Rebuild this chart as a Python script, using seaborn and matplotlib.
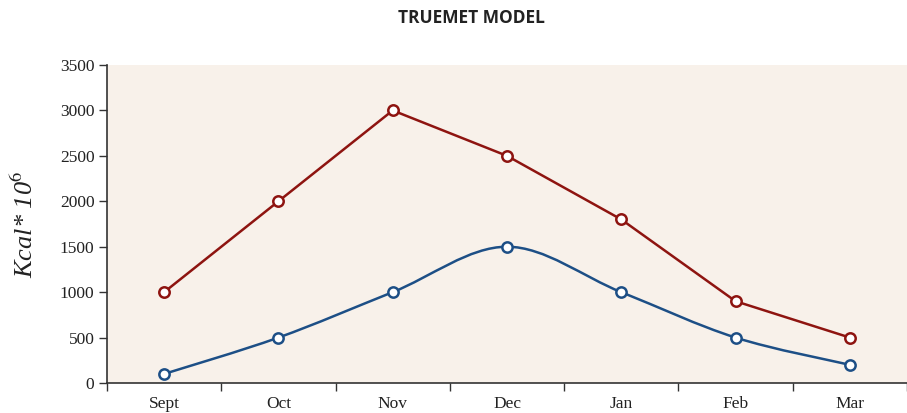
import numpy as np
import pandas as pd
import matplotlib
matplotlib.use("Agg")
import matplotlib.pyplot as plt
from matplotlib.path import Path
from matplotlib.patches import PathPatch
import seaborn as sns

months = ["Sept", "Oct", "Nov", "Dec", "Jan", "Feb", "Mar"]
red_values = [1000, 2000, 3000, 2500, 1800, 900, 500]
blue_values = [100, 500, 1000, 1500, 1000, 500, 200]
y_ticks = [0, 500, 1000, 1500, 2000, 2500, 3000, 3500]

RED = "#8E1410"
BLUE = "#1D4F86"
BG = "#F8F1EA"

df = pd.DataFrame({"pos": range(len(months)), "month": months,
                   "red": red_values, "blue": blue_values})

sns.set_style("white")
plt.rcParams["font.family"] = ["Liberation Serif", "DejaVu Serif"]

fig = plt.figure(figsize=(9.07, 4.13), dpi=100)
ax = fig.add_axes([107 / 907, 30 / 413, 800 / 907, 318 / 413])
ax.set_facecolor(BG)

# red series: straight segments
sns.lineplot(data=df, x="pos", y="red", ax=ax, color=RED, linewidth=1.8,
             marker="o", markersize=7.5, markerfacecolor="white",
             markeredgecolor=RED, markeredgewidth=1.8, zorder=3)

# blue series: smoothed (cardinal spline) line, markers on top
xs = df["pos"].to_numpy(dtype=float)
ys = df["blue"].to_numpy(dtype=float)
t = 0.5
verts = [(xs[0], ys[0])]
codes = [Path.MOVETO]
for i in range(len(xs) - 1):
    p0 = (xs[max(i - 1, 0)], ys[max(i - 1, 0)])
    p1 = (xs[i], ys[i])
    p2 = (xs[i + 1], ys[i + 1])
    p3 = (xs[min(i + 2, len(xs) - 1)], ys[min(i + 2, len(xs) - 1)])
    c1 = (p1[0] + (p2[0] - p0[0]) * t / 3, p1[1] + (p2[1] - p0[1]) * t / 3)
    c2 = (p2[0] - (p3[0] - p1[0]) * t / 3, p2[1] - (p3[1] - p1[1]) * t / 3)
    verts += [c1, c2, p2]
    codes += [Path.CURVE4] * 3
ax.add_patch(PathPatch(Path(verts, codes), facecolor="none", edgecolor=BLUE,
                       linewidth=1.8, zorder=3))
sns.scatterplot(data=df, x="pos", y="blue", ax=ax, s=55, color="white",
                edgecolor=BLUE, linewidth=1.8, zorder=4)

ax.set_xlim(-0.5, 6.47)
ax.set_ylim(0, 3500)
ax.set_yticks(y_ticks)
ax.set_xticks(range(len(months)))
ax.set_xticklabels(months)
ax.set_xticks(np.arange(-0.5, 7, 1), minor=True)
ax.tick_params(axis="x", which="major", bottom=True, length=0, pad=9,
               labelsize=12.5, colors="#222222")
ax.tick_params(axis="x", which="minor", bottom=True, length=6, width=1,
               color="#333333", direction="out")
ax.tick_params(axis="y", left=True, length=6, width=1, color="#333333",
               direction="out", labelsize=12.5, labelcolor="#222222", pad=3)
ax.set_xlabel("")
ax.set_ylabel(r"Kcal* 10$^{\mathit{6}}$", fontsize=19, style="italic",
              color="#222222", labelpad=16)
ax.yaxis.label.set_math_fontfamily("stix")
for side in ["top", "right"]:
    ax.spines[side].set_visible(False)
for side in ["left", "bottom"]:
    ax.spines[side].set_color("#333333")
    ax.spines[side].set_linewidth(1.2)

fig.text(471 / 907, 1 - 18 / 413, "TRUEMET MODEL", ha="center", va="center",
         fontsize=12.5, fontweight="bold", family=["Open Sans", "DejaVu Sans"],
         color="#222222")

fig.savefig("out.png", dpi=100)
